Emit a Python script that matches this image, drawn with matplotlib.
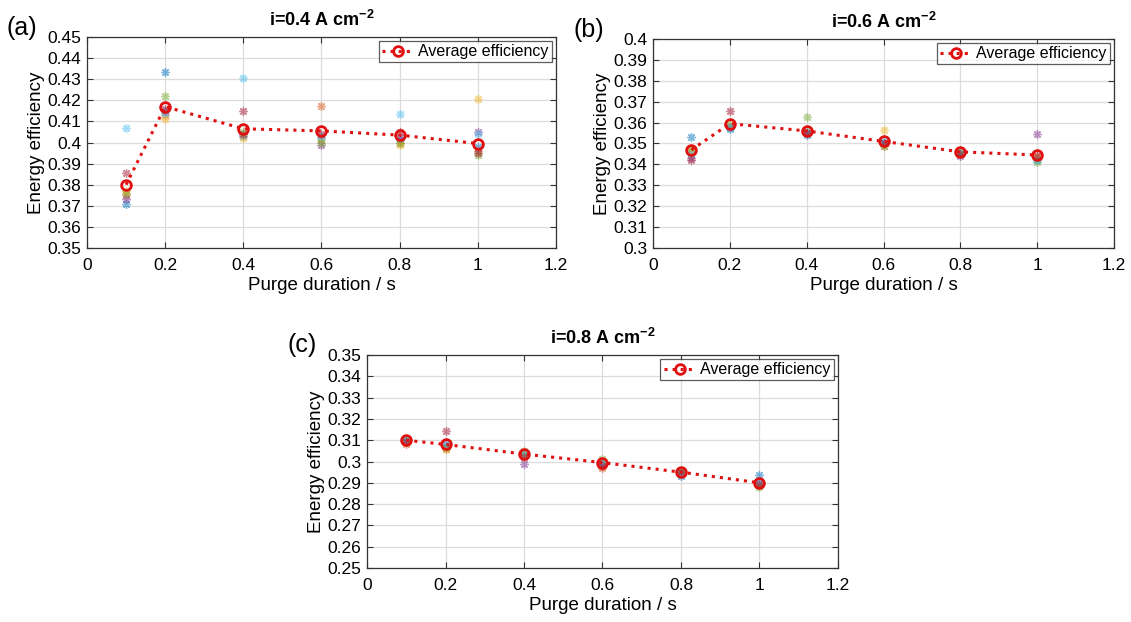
import matplotlib.pyplot as plt

plt.rcParams["font.family"] = ["Liberation Sans", "DejaVu Sans"]
plt.rcParams["mathtext.fontset"] = "custom"
plt.rcParams["mathtext.rm"] = "Liberation Sans"
plt.rcParams["mathtext.bf"] = "Liberation Sans:bold"

# purge durations (s)
purge = [0.1, 0.2, 0.4, 0.6, 0.8, 1.0]

# MATLAB default colour order, one per repeated run
RUN_COLORS = ["#0072BD", "#D95319", "#EDB120", "#7E2F8E",
              "#77AC30", "#4DBEEE", "#A2142F"]

# --- i = 0.4 A cm-2 ---
runs_a = [
    [0.371, 0.4335, 0.403, 0.402, 0.401, 0.398],
    [0.375, 0.413, 0.404, 0.4175, 0.400, 0.396],
    [0.377, 0.411, 0.402, 0.401, 0.399, 0.4205],
    [0.373, 0.415, 0.404, 0.399, 0.402, 0.405],
    [0.376, 0.422, 0.405, 0.400, 0.400, 0.394],
    [0.407, 0.414, 0.4305, 0.403, 0.4135, 0.404],
    [0.3855, 0.416, 0.415, 0.404, 0.405, 0.395],
]
avg_a = [0.380, 0.417, 0.4065, 0.4055, 0.4035, 0.3995]

# --- i = 0.6 A cm-2 ---
runs_b = [
    [0.353, 0.357, 0.354, 0.350, 0.345, 0.342],
    [0.346, 0.358, 0.355, 0.349, 0.346, 0.344],
    [0.347, 0.359, 0.356, 0.3565, 0.347, 0.343],
    [0.343, 0.358, 0.355, 0.350, 0.344, 0.3545],
    [0.348, 0.359, 0.3625, 0.349, 0.345, 0.341],
    [0.345, 0.358, 0.356, 0.351, 0.347, 0.342],
    [0.342, 0.3655, 0.355, 0.350, 0.345, 0.344],
]
avg_b = [0.347, 0.3595, 0.356, 0.351, 0.346, 0.3445]

# --- i = 0.8 A cm-2 ---
runs_c = [
    [0.310, 0.307, 0.303, 0.299, 0.293, 0.2935],
    [0.308, 0.306, 0.304, 0.297, 0.295, 0.290],
    [0.309, 0.306, 0.303, 0.300, 0.294, 0.289],
    [0.310, 0.308, 0.299, 0.299, 0.295, 0.290],
    [0.311, 0.307, 0.305, 0.301, 0.296, 0.288],
    [0.310, 0.308, 0.304, 0.300, 0.294, 0.291],
    [0.309, 0.3145, 0.302, 0.298, 0.295, 0.289],
]
avg_c = [0.310, 0.308, 0.3035, 0.2995, 0.295, 0.290]

panels = [
    ("(a)", r"i=0.4 A cm$^{\mathbf{-2}}$", runs_a, avg_a, (0.35, 0.45), [0.0769, 0.6013, 0.4147, 0.3392]),
    ("(b)", r"i=0.6 A cm$^{\mathbf{-2}}$", runs_b, avg_b, (0.30, 0.40), [0.5774, 0.6013, 0.4076, 0.3360]),
    ("(c)", r"i=0.8 A cm$^{\mathbf{-2}}$", runs_c, avg_c, (0.25, 0.35), [0.3245, 0.0868, 0.4164, 0.3424]),
]

FIG_W = 11.31
fig = plt.figure(figsize=(FIG_W, 6.22), dpi=100)

for tag, title, runs, avg, ylim, rect in panels:
    ax = fig.add_axes(rect)
    for vals, c in zip(runs, RUN_COLORS):
        ax.plot(purge, vals, linestyle="none", marker=(8, 2, 0), markersize=6,
                color=c, alpha=0.5, markeredgewidth=1.0)
    ax.plot(purge, avg, linestyle=":", color="#e01010", linewidth=2.2,
            marker="o", markersize=7, markerfacecolor="none",
            markeredgewidth=2, label="Average efficiency", zorder=5)

    ax.set_xlim(0, 1.2)
    ax.set_ylim(*ylim)
    lo = ylim[0]
    yt = [round(lo + 0.01 * k, 2) for k in range(11)]
    ax.set_yticks(yt)
    ax.set_yticklabels([f"{v:g}" for v in yt])
    xt = [0, 0.2, 0.4, 0.6, 0.8, 1.0, 1.2]
    ax.set_xticks(xt)
    ax.set_xticklabels([f"{v:g}" for v in xt])
    ax.tick_params(direction="in", length=4, labelsize=12.5, top=True, right=True,
                   color="#333333")
    ax.tick_params(axis="x", pad=7)
    ax.tick_params(axis="y", pad=4)
    ax.grid(True, color="#dcdcdc", linewidth=0.9)
    ax.set_axisbelow(True)
    for sp in ax.spines.values():
        sp.set_color("#333333")
        sp.set_linewidth(0.9)

    ax.set_xlabel("Purge duration / s", fontsize=13.5, labelpad=3)
    ax.set_ylabel("Energy efficiency", fontsize=13.5, labelpad=2)
    ax.set_title(title, fontsize=13, fontweight="bold", pad=8)

    leg = ax.legend(loc="upper right", fontsize=11.5, frameon=True, fancybox=False,
                    borderpad=0.2, borderaxespad=0.25, handlelength=2.0,
                    handletextpad=0.3)
    leg.get_frame().set_edgecolor("#333333")
    leg.get_frame().set_linewidth(0.9)

    # panel tag sits ~80 px left of the axes frame
    tag_x = -0.80 / (rect[2] * FIG_W)
    ax.text(tag_x, 1.045, tag, transform=ax.transAxes, fontsize=18,
            ha="left", va="center")

fig.savefig("out.png", dpi=100)
